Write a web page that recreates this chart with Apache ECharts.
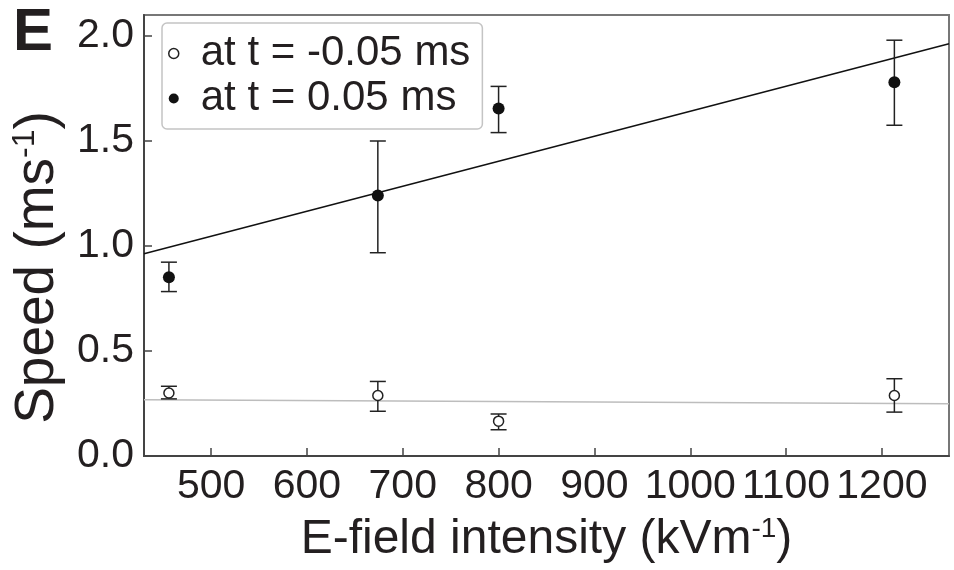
<!DOCTYPE html>
<html><head><meta charset="utf-8">
<script src="https://cdn.jsdelivr.net/npm/echarts@6/dist/echarts.min.js"></script>
<style>html,body{margin:0;padding:0;background:#fff}#c{width:954px;height:570px}</style>
</head><body><div id="c"></div>
<script>
// Data
var fieldBefore = [456, 674, 800, 1213];
var speedBefore = [0.300, 0.288, 0.166, 0.288];
var errLowBefore = [0.272, 0.213, 0.125, 0.209];
var errHighBefore = [0.332, 0.355, 0.200, 0.368];

var fieldAfter = [456, 674, 800, 1213];
var speedAfter = [0.851, 1.240, 1.655, 1.780];
var errLowAfter = [0.783, 0.968, 1.540, 1.575];
var errHighAfter = [0.923, 1.500, 1.760, 1.980];

var fitAfterX = [430, 1270];
var fitAfterY = [0.963, 1.963];
var fitBeforeX = [430, 1270];
var fitBeforeY = [0.268, 0.249];

var xTicks = [500, 600, 700, 800, 900, 1000, 1100, 1200];
var yTicks = [0.0, 0.5, 1.0, 1.5, 2.0];

var legendNames = ['at t = -0.05 ms', 'at t = 0.05 ms'];

var txt = '#231f20';
var font = '"Liberation Sans", Arial, sans-serif';

function zip(a, b) { return a.map(function (v, i) { return [v, b[i]]; }); }
function errData(x, lo, hi) { return x.map(function (v, i) { return [v, lo[i], hi[i]]; }); }

function errRender(params, api) {
  var x = api.value(0), lo = api.value(1), hi = api.value(2);
  var pLo = api.coord([x, lo]), pHi = api.coord([x, hi]);
  var cap = 8;
  var st = { stroke: '#222', lineWidth: 1.5 };
  return {
    type: 'group',
    children: [
      { type: 'line', shape: { x1: pLo[0], y1: pLo[1], x2: pHi[0], y2: pHi[1] }, style: st },
      { type: 'line', shape: { x1: pLo[0] - cap, y1: pLo[1], x2: pLo[0] + cap, y2: pLo[1] }, style: st },
      { type: 'line', shape: { x1: pHi[0] - cap, y1: pHi[1], x2: pHi[0] + cap, y2: pHi[1] }, style: st }
    ]
  };
}

var chart = echarts.init(document.getElementById('c'), null, { renderer: 'canvas' });
chart.setOption({
  animation: false,
  backgroundColor: '#fff',
  textStyle: { fontFamily: font, color: txt },
  grid: { left: 144, right: 5, top: 15, bottom: 114, show: true, borderColor: '#777', borderWidth: 2,
    backgroundColor: 'transparent', containLabel: false, outerBoundsMode: 'none' },
  graphic: [
    { type: 'text', left: 13, top: 3, style: { text: 'E', font: 'bold 60px ' + font, fill: txt } }
  ],
  legend: {
    data: [
      { name: legendNames[0], icon: 'circle', itemStyle: { color: '#fff', borderColor: '#222', borderWidth: 1.5, opacity: 1 } },
      { name: legendNames[1], icon: 'circle', itemStyle: { color: '#111', opacity: 1 } }
    ],
    orient: 'vertical',
    left: 162, top: 23,
    itemWidth: 10, itemHeight: 10, itemGap: 0,
    padding: [8, 12, 8, 6],
    borderColor: '#c4c4c4', borderWidth: 1.5, borderRadius: 5,
    textStyle: { fontFamily: font, fontSize: 42, lineHeight: 45, color: txt, padding: [0, 0, 0, 17] }
  },
  xAxis: {
    type: 'value', min: 430, max: 1270, interval: 100,
    name: 'E-field intensity (kVm{sup|-1})', nameLocation: 'middle', nameGap: 59,
    nameTextStyle: { fontFamily: font, fontSize: 48, color: txt,
      rich: { sup: { fontSize: 28, padding: [0, 0, 22, 0], color: txt, fontFamily: font } } },
    axisLine: { show: true, lineStyle: { color: '#444', width: 2 } },
    axisTick: { show: true, inside: true, length: 8, lineStyle: { color: '#444', width: 1.5 }, customValues: xTicks },
    axisLabel: { fontFamily: font, fontSize: 41, color: txt, margin: 10, customValues: xTicks, hideOverlap: false,
      formatter: function (v) { return String(v); } },
    splitLine: { show: false }
  },
  yAxis: {
    type: 'value', min: 0, max: 2.1, interval: 0.5,
    name: 'Speed (ms{sup|-1})', nameLocation: 'middle', nameGap: 77, nameRotate: 90,
    nameTextStyle: { fontFamily: font, fontSize: 55, color: txt, padding: [0, 64, 0, 0],
      rich: { sup: { fontSize: 32, padding: [0, 0, 26, 0], color: txt, fontFamily: font } } },
    axisLine: { show: true, lineStyle: { color: '#444', width: 2 } },
    axisTick: { show: true, inside: true, length: 8, lineStyle: { color: '#444', width: 1.5 }, customValues: yTicks },
    axisLabel: { fontFamily: font, fontSize: 41, color: txt, margin: 10, customValues: yTicks, hideOverlap: false,
      formatter: function (v) { return v.toFixed(1); } },
    splitLine: { show: false }
  },
  series: [
    { name: 'fitBefore', type: 'line', data: zip(fitBeforeX, fitBeforeY), symbol: 'none',
      lineStyle: { color: '#bdbdbd', width: 1.5 }, silent: true, z: 1 },
    { name: 'fitAfter', type: 'line', data: zip(fitAfterX, fitAfterY), symbol: 'none',
      lineStyle: { color: '#111', width: 1.5 }, silent: true, z: 1 },
    { name: 'errBefore', type: 'custom', renderItem: errRender, data: errData(fieldBefore, errLowBefore, errHighBefore), z: 2 },
    { name: 'errAfter', type: 'custom', renderItem: errRender, data: errData(fieldAfter, errLowAfter, errHighAfter), z: 2 },
    { name: legendNames[0], type: 'scatter', data: zip(fieldBefore, speedBefore), symbol: 'circle', symbolSize: 10,
      itemStyle: { color: '#fff', borderColor: '#222', borderWidth: 1.5, opacity: 1 }, z: 3 },
    { name: legendNames[1], type: 'scatter', data: zip(fieldAfter, speedAfter), symbol: 'circle', symbolSize: 12,
      itemStyle: { color: '#111', opacity: 1 }, z: 3 }
  ]
});
</script>
</body></html>
